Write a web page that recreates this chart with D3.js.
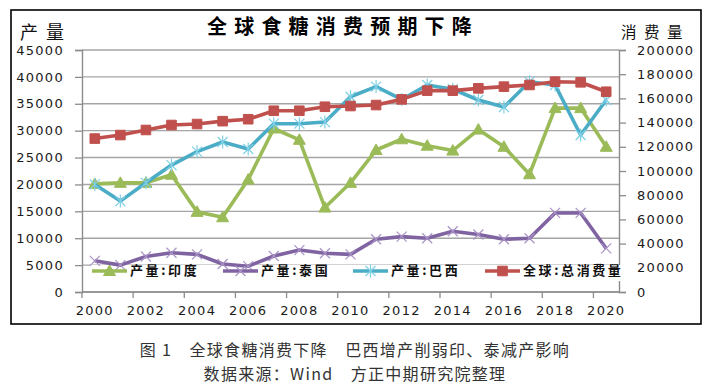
<!DOCTYPE html>
<html>
<head>
<meta charset="utf-8">
<script src="https://cdn.jsdelivr.net/npm/d3@7"></script>
<style>
  body { margin: 0; background: #fff; }
  text { font-family: "DejaVu Sans", sans-serif; }
  .cjk { font-family: "Noto Sans CJK SC", sans-serif; }
</style>
</head>
<body>
<script>
// donnees
const years = ["2000","2001","2002","2003","2004","2005","2006","2007","2008","2009","2010",
               "2011","2012","2013","2014","2015","2016","2017","2018","2019","2020"];
const india  = [20100, 20300, 20300, 21800, 14900, 13900, 20900, 30400, 28300, 15700, 20300,
                26400, 28400, 27200, 26300, 30200, 27000, 21900, 34200, 34200, 27000];
const thai   = [5800, 5000, 6600, 7300, 7000, 5200, 4800, 6700, 7800, 7200, 7000,
                9800, 10300, 10000, 11300, 10700, 9800, 10000, 14700, 14700, 8100];
const brazil = [20000, 16900, 20300, 23600, 26100, 27900, 26600, 31300, 31300, 31600, 36300,
                38200, 35800, 38500, 37700, 35700, 34400, 39100, 38500, 29200, 35700];
const total  = [126800, 129700, 133900, 138000, 138800, 141200, 142800, 149800, 149800, 153100, 153700,
                154500, 159200, 166400, 166400, 168300, 169700, 171100, 173800, 173300, 165500];
const leftTicks  = [0, 5000, 10000, 15000, 20000, 25000, 30000, 35000, 40000, 45000];
const rightTicks = [0, 20000, 40000, 60000, 80000, 100000, 120000, 140000, 160000, 180000, 200000];
const labelYears = ["2000","2002","2004","2006","2008","2010","2012","2014","2016","2018","2020"];

const W = 714, H = 386;
const pLeft = 82, pRight = 619, pTop = 50, pBottom = 292;

const svg = d3.select("body").append("svg")
  .attr("width", W).attr("height", H);

// cadre
svg.append("rect")
  .attr("x", 11).attr("y", 10).attr("width", 690).attr("height", 314)
  .attr("fill", "#fff").attr("stroke", "#000").attr("stroke-width", 1.6);

// echelles
let x = d3.scaleBand().domain(years).range([pLeft, pRight]).padding(0);
let y = d3.scaleLinear().domain([0, 45000]).range([pBottom, pTop]);
let y2 = d3.scaleLinear().domain([0, 200000]).range([pBottom, pTop]);
const cx = d => x(d) + x.bandwidth() / 2;

// grille
svg.append("g")
  .selectAll("line").data(leftTicks).enter().append("line")
  .attr("x1", pLeft).attr("x2", pRight)
  .attr("y1", d => y(d)).attr("y2", d => y(d))
  .attr("stroke", "#a5a5a5").attr("stroke-width", 1.4);

// axe gauche
const gL = svg.append("g")
  .attr("transform", `translate(${pLeft},0)`)
  .call(d3.axisLeft(y).tickValues(leftTicks).tickSize(7).tickPadding(11).tickFormat(d3.format("d")));
// axe droit
const gR = svg.append("g")
  .attr("transform", `translate(${pRight},0)`)
  .call(d3.axisRight(y2).tickValues(rightTicks).tickSize(7).tickPadding(11).tickFormat(d3.format("d")));
// axe du bas (etiquettes au centre des categories)
const gB = svg.append("g")
  .attr("transform", `translate(0,${pBottom})`)
  .call(d3.axisBottom(x).tickValues(labelYears).tickSize(0).tickPadding(14));
gB.select(".domain").remove();
// petits traits entre les categories (tous les 2 ans)
svg.append("g").selectAll("line").data(labelYears).enter().append("line")
  .attr("x1", d => x(d)).attr("x2", d => x(d))
  .attr("y1", pBottom).attr("y2", pBottom + 6)
  .attr("stroke", "#8c8c8c").attr("stroke-width", 1.3);
svg.append("line")
  .attr("x1", pLeft).attr("x2", pRight).attr("y1", pBottom).attr("y2", pBottom)
  .attr("stroke", "#8c8c8c").attr("stroke-width", 1.4);

[gL, gR].forEach(g => {
  g.select(".domain").attr("stroke", "#8c8c8c").attr("stroke-width", 1.4);
  g.selectAll(".tick line").attr("stroke", "#8c8c8c").attr("stroke-width", 1.3);
});
[gL, gR, gB].forEach(g => {
  g.selectAll(".tick text")
    .attr("font-size", 13).attr("fill", "#1a1a1a")
    .attr("letter-spacing", "1.3px")
    .style("font-family", "DejaVu Sans, sans-serif");
});

// fond de la legende (sous les courbes, comme dans l'original)
svg.append("rect")
  .attr("x", 90).attr("y", 265).attr("width", 544).attr("height", 16)
  .attr("fill", "#fff");

// marqueurs
const tri = "M0,-6L6,4.5L-6,4.5Z";
const sq = "M-4.8,-4.8H4.8V4.8H-4.8Z";
const star = "M-5,-5L5,5M-5,5L5,-5M0,-6.5V6.5";
const cross = "M-5,-5L5,5M-5,5L5,-5";

const series = [
  { name: "产量:印度", data: india, sc: y, color: "#9bbb59", marker: tri, fillMk: true },
  { name: "产量:泰国", data: thai, sc: y, color: "#8064a2", marker: cross, fillMk: false, mkColor: "#a993c6" },
  { name: "产量:巴西", data: brazil, sc: y, color: "#4bacc6", marker: star, fillMk: false, mkColor: "#7fd0e6" },
  { name: "全球:总消费量", data: total, sc: y2, color: "#c0504d", marker: sq, fillMk: true }
];

series.forEach(s => {
  const line = d3.line()
    .x((d, i) => cx(years[i]))
    .y(d => s.sc(d));
  svg.append("path")
    .datum(s.data)
    .attr("d", line)
    .attr("fill", "none")
    .attr("stroke", s.color)
    .attr("stroke-width", 3.6)
    .attr("stroke-linejoin", "round");
  svg.append("g").selectAll("path").data(s.data).enter().append("path")
    .attr("transform", (d, i) => `translate(${cx(years[i])},${s.sc(d)})`)
    .attr("d", s.marker)
    .attr("fill", s.fillMk ? s.color : "none")
    .attr("stroke", s.fillMk ? s.color : s.mkColor)
    .attr("stroke-width", s.fillMk ? 1 : 1.2);
});

// legende
const legendX = [92, 223, 353, 485];
series.forEach((s, i) => {
  const lg = svg.append("g").attr("transform", `translate(${legendX[i]},271)`);
  lg.append("line").attr("x1", 0).attr("x2", 35).attr("y1", 0).attr("y2", 0)
    .attr("stroke", s.color).attr("stroke-width", 3.6);
  lg.append("path").attr("transform", "translate(17.5,0)").attr("d", s.marker)
    .attr("fill", s.fillMk ? s.color : "none")
    .attr("stroke", s.fillMk ? s.color : s.mkColor)
    .attr("stroke-width", s.fillMk ? 1 : 1.2);
  lg.append("text").attr("class", "cjk")
    .attr("x", 38).attr("y", 3.5)
    .attr("font-size", 13).attr("font-weight", "bold")
    .attr("letter-spacing", "2.6px")
    .attr("fill", "#111")
    .text(s.name);
});

// titres
svg.append("text").attr("class", "cjk")
  .attr("x", 207).attr("y", 34)
  .attr("font-size", 20).attr("font-weight", "bold")
  .attr("letter-spacing", "7.2px")
  .attr("fill", "#000")
  .text("全球食糖消费预期下降");
svg.append("text").attr("class", "cjk")
  .attr("x", 20).attr("y", 39)
  .attr("font-size", 18).attr("letter-spacing", "8px").attr("fill", "#111")
  .text("产量");
svg.append("text").attr("class", "cjk")
  .attr("x", 621).attr("y", 37.5)
  .attr("font-size", 15.5).attr("letter-spacing", "7.5px").attr("fill", "#111")
  .text("消费量");

// legende sous le graphique
svg.append("text").attr("class", "cjk")
  .attr("x", 355).attr("y", 356).attr("text-anchor", "middle")
  .attr("font-size", 16).attr("letter-spacing", "1.3px").attr("fill", "#333")
  .text("图 1　全球食糖消费下降　巴西增产削弱印、泰减产影响");
svg.append("text").attr("class", "cjk")
  .attr("x", 355).attr("y", 380).attr("text-anchor", "middle")
  .attr("font-size", 16).attr("letter-spacing", "1.3px").attr("fill", "#333")
  .text("数据来源：Wind　方正中期研究院整理");
</script>
</body>
</html>
